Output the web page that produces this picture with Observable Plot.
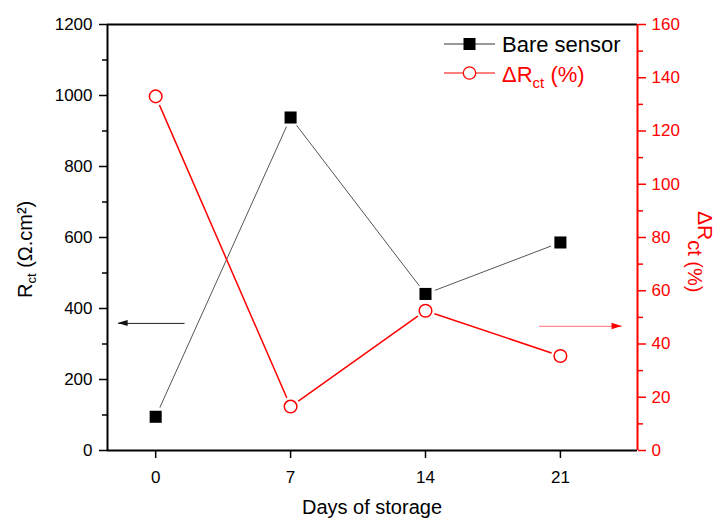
<!DOCTYPE html>
<html><head><meta charset="utf-8">
<script src="https://cdn.jsdelivr.net/npm/d3@7"></script>
<script src="https://cdn.jsdelivr.net/npm/@observablehq/plot@0.6"></script>
<style>
body{margin:0;background:#fff;}
#chart svg{display:block;}
#chart svg text.tick-txt{font-size:17px !important;}
</style></head><body><div id="chart"></div>
<script>
// ---- data ----
const days = [0, 7, 14, 21];
const bareSensor = [95, 938, 441, 586];        // Rct (Ω.cm²), left axis
const deltaRct = [133, 16.5, 52.5, 35.5];      // ΔRct (%), right axis
const xTicks = [0, 7, 14, 21];
const leftTicks = [0, 200, 400, 600, 800, 1000, 1200];
const leftMinorTicks = [100, 300, 500, 700, 900, 1100];
const rightTicks = [0, 20, 40, 60, 80, 100, 120, 140, 160];
const rightMinorTicks = [10, 30, 50, 70, 90, 110, 130, 150];
const xDomain = [-2.5, 25];
const leftDomain = [0, 1200];
const rightDomain = [0, 160];
const leftArrow = [{x1: 1.5, x2: -1.95, y: 358}];    // left-axis units
const rightArrow = [{x1: 19.9, x2: 24.2, y: 46.6}];  // right-axis units

const k = leftDomain[1] / rightDomain[1];
const bare = days.map((d, i) => ({day: d, v: bareSensor[i]}));
const delta = days.map((d, i) => ({day: d, v: deltaRct[i] * k}));
const rArrow = rightArrow.map(a => ({...a, y: a.y * k}));

const font = "'Liberation Sans', Arial, Helvetica, sans-serif";

const plot = Plot.plot({
  width: 718, height: 519,
  marginLeft: 107, marginRight: 81, marginTop: 24, marginBottom: 69,
  style: {fontFamily: font, fontSize: "17px", background: "white", overflow: "visible"},
  x: {domain: xDomain},
  y: {domain: leftDomain},
  marks: [
    Plot.axisX(xTicks, {tickSize: 8, tickPadding: 12, label: null, strokeWidth: 1.5, fontSize: 17,
      tickFormat: d => String(d)}),
    Plot.axisY(leftTicks, {tickSize: 8, tickPadding: 7, label: null, strokeWidth: 1.5, fontSize: 17,
      tickFormat: d => String(d)}),
    Plot.axisY(leftMinorTicks, {tickSize: 5, tickFormat: () => "", label: null, strokeWidth: 1.5}),
    Plot.axisY(rightTicks.map(v => v * k), {anchor: "right", tickSize: 8, tickPadding: 6, label: null, fontSize: 17,
      tickFormat: d => String(Math.round(d / k)), color: "red", stroke: "red", fill: "red", strokeWidth: 1.5}),
    Plot.axisY(rightMinorTicks.map(v => v * k), {anchor: "right", tickSize: 5, tickFormat: () => "", label: null,
      color: "red", stroke: "red", strokeWidth: 1.5}),
    Plot.ruleY([leftDomain[0], leftDomain[1]], {stroke: "black", strokeWidth: 2}),
    Plot.ruleX([xDomain[0]], {stroke: "black", strokeWidth: 2}),
    Plot.ruleX([xDomain[1]], {stroke: "red", strokeWidth: 2}),
    // arrows (shafts)
    Plot.link(leftArrow, {x1: "x1", x2: "x2", y1: "y", y2: "y", stroke: "#222", strokeWidth: 1}),
    Plot.link(rArrow, {x1: "x1", x2: "x2", y1: "y", y2: "y", stroke: "#ff8c8c", strokeWidth: 1.2}),
    // bare sensor
    Plot.line(bare, {x: "day", y: "v", stroke: "#555", strokeWidth: 1}),
    Plot.dot(bare, {x: "day", y: "v", r: 10, fill: "white", stroke: null}),
    Plot.dot(bare, {x: "day", y: "v", symbol: "square", r: 6.8, fill: "black", stroke: null}),
    // delta Rct
    Plot.line(delta, {x: "day", y: "v", stroke: "red", strokeWidth: 1.5}),
    Plot.dot(delta, {x: "day", y: "v", r: 9.5, fill: "white", stroke: null}),
    Plot.dot(delta, {x: "day", y: "v", r: 6.3, fill: "white", stroke: "red", strokeWidth: 1.5})
  ]
});

document.getElementById("chart").appendChild(plot);

const svg = d3.select(plot);
// enlarge all Plot-generated tick labels
svg.selectAll("text").classed("tick-txt", true).attr("font-size", 17).style("font-size", "17px");
svg.selectAll("g").filter(function() { return this.getAttribute("font-size"); }).attr("font-size", 17);

const sx = plot.scale("x"), sy = plot.scale("y");

// arrowheads
{
  const tx = sx.apply(leftArrow[0].x2), ty = sy.apply(leftArrow[0].y);
  svg.append("polygon").attr("points", `${tx},${ty} ${tx+10},${ty-3} ${tx+10},${ty+3}`).attr("fill", "#111");
  const rx = sx.apply(rArrow[0].x2), ry = sy.apply(rArrow[0].y);
  svg.append("polygon").attr("points", `${rx},${ry} ${rx-10},${ry-3.2} ${rx-10},${ry+3.2}`).attr("fill", "red");
}

// axis titles
svg.append("text").attr("x", 372).attr("y", 514).attr("text-anchor", "middle")
  .attr("font-family", font).attr("font-size", 20).attr("fill", "black").text("Days of storage");

const lt = svg.append("text").attr("transform", "translate(32,298) rotate(-90)").attr("text-anchor", "start")
  .attr("font-family", font).attr("font-size", 20).attr("fill", "black");
lt.append("tspan").text("R");
lt.append("tspan").attr("font-size", 13).attr("dy", 4).text("ct");
lt.append("tspan").attr("dy", -4).text(" (Ω.cm²)");

const rt = svg.append("text").attr("transform", "translate(698,211) rotate(90)").attr("text-anchor", "start")
  .attr("font-family", font).attr("font-size", 21).attr("fill", "red");
rt.append("tspan").text("ΔR");
rt.append("tspan").attr("font-size", 20).attr("dy", 10).text("ct (%)");

// legend
const lg = svg.append("g").attr("font-family", font).attr("font-size", 22).attr("text-anchor", "start");
lg.append("line").attr("x1", 444).attr("x2", 495).attr("y1", 44).attr("y2", 44).attr("stroke", "#333").attr("stroke-width", 1);
lg.append("rect").attr("x", 463.5).attr("y", 38).attr("width", 12).attr("height", 12).attr("fill", "black");
lg.append("text").attr("x", 502).attr("y", 51.5).attr("fill", "black").text("Bare sensor");
lg.append("line").attr("x1", 444).attr("x2", 495).attr("y1", 73).attr("y2", 73).attr("stroke", "red").attr("stroke-width", 1.2);
lg.append("circle").attr("cx", 469.5).attr("cy", 73).attr("r", 6.2).attr("fill", "white").attr("stroke", "red").attr("stroke-width", 1.3);
const lt2 = lg.append("text").attr("x", 502).attr("y", 81.5).attr("fill", "red");
lt2.append("tspan").text("ΔR");
lt2.append("tspan").attr("font-size", 15).attr("dy", 6).text("ct");
lt2.append("tspan").attr("dy", -6).text(" (%)");
</script>
</body></html>
